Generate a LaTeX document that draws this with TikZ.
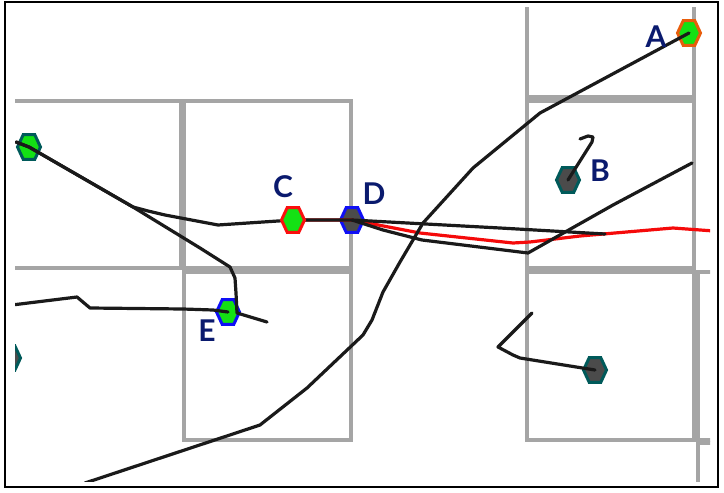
\documentclass[tikz,border=0pt]{standalone}
\usepackage{fontspec}
\setmainfont{Lato}
\definecolor{gridgray}{RGB}{165,165,165}
\definecolor{trackblack}{RGB}{26,26,26}
\definecolor{trackred}{RGB}{245,10,10}
\definecolor{lblblue}{RGB}{10,26,110}
\definecolor{hexgreen}{RGB}{20,225,20}
\definecolor{hexgray}{RGB}{75,75,75}
\definecolor{hexteal}{RGB}{0,90,90}
\definecolor{hexorange}{RGB}{232,93,12}
\definecolor{hexred}{RGB}{250,15,15}
\definecolor{hexblue}{RGB}{15,15,245}
\begin{document}
\begin{tikzpicture}[x=1pt,y=-1pt,
  cell/.style={draw=gridgray, line width=3.5pt},
  track/.style={draw=trackblack, line width=3.2pt, line join=round, line cap=round},
  redtrack/.style={draw=trackred, line width=3.2pt, line join=round, line cap=round},
  lbl/.style={text=lblblue, font=\fontsize{30}{30}\selectfont\bfseries, inner sep=0pt},
  hexa/.pic={\path[pic actions] (-11.5,0) -- (-5.8,-12.3) -- (5.8,-12.3) -- (11.5,0) -- (5.8,12.3) -- (-5.8,12.3) -- cycle;},
  hgreen/.style={fill=hexgreen, line width=3pt},
  hgray/.style={fill=hexgray, line width=3pt}
]
\useasboundingbox (0,0) rectangle (724,493);
% hexagon centres
\coordinate (A) at (689,33);
\coordinate (B) at (568,180);
\coordinate (C) at (293,220);
\coordinate (D) at (352,220);
\coordinate (E) at (228,312);
\coordinate (F) at (29,147);
\coordinate (G) at (595,370);
\coordinate (H) at (9,358);
\begin{scope}
\clip (15,7) rectangle (710,481);
% grid cells
\draw[cell] (12,101) rectangle (181,268);
\draw[cell] (184,101) rectangle (351,268);
\draw[cell] (184,272) rectangle (351,440);
\draw[cell] (527,-70) rectangle (694,97);
\draw[cell] (527,101) rectangle (694,268);
\draw[cell] (527,272) rectangle (694,440);
\draw[cell] (698,272) rectangle (865,440);
\draw[cell] (698,443) rectangle (865,610);
% hexagons under the tracks
\pic[draw=hexorange, hgreen] at (A) {hexa};
\pic[draw=hexteal, hgray] at (B) {hexa};
\pic[draw=hexblue, hgray] at (D) {hexa};
\pic[draw=hexblue, hgreen] at (E) {hexa};
\pic[draw=hexteal, hgreen] at (F) {hexa};
\pic[draw=hexteal, hgray] at (G) {hexa};
\pic[draw=hexteal, hgray] at (H) {hexa};
% red track
\draw[redtrack] (C) -- (D) -- (420,233) -- (513,243) -- (530,242) -- (580,236) -- (673,228) -- (714,231);
% black tracks
\draw[track] (A) -- (540,113) -- (473,168) -- (423,223) -- (400,262) -- (383,292) -- (372,320) -- (363,335) -- (307,388) -- (260,425) -- (85,483);
\draw[track] (16,142) -- (F) -- (133,207) -- (148,211) -- (165,215) -- (218,225) -- (C) -- (D) -- (500,228) -- (605,234);
\draw[track] (16,142) -- (F) -- (133,207) -- (200,248) -- (230,267) -- (235,278) -- (236,293) -- (237,313) -- (267,322);
\draw[track] (12,305) -- (77,297) -- (90,308) -- (183,309) -- (213,310) -- (E);
\draw[track] (D) -- (383,230) -- (422,240) -- (528,253) -- (613,205) -- (660,180) -- (692,163);
\draw[track] (B) -- (592,142) -- (593,137) -- (588,136) -- (580,139);
\draw[track] (G) -- (520,358) -- (513,355) -- (498,347) -- (532,313);
% hexagon above the tracks
\pic[draw=hexred, hgreen] at (C) {hexa};
\end{scope}
% labels
\node[lbl] (labA) at (656,37) {A};
\node[lbl] (labB) at (600,171) {B};
\node[lbl] (labC) at (283,187) {C};
\node[lbl] (labD) at (374,194) {D};
\node[lbl] (labE) at (207,331) {E};
% frame
\draw[line width=2pt] (5,2) rectangle (718,487);
\end{tikzpicture}
\end{document}
